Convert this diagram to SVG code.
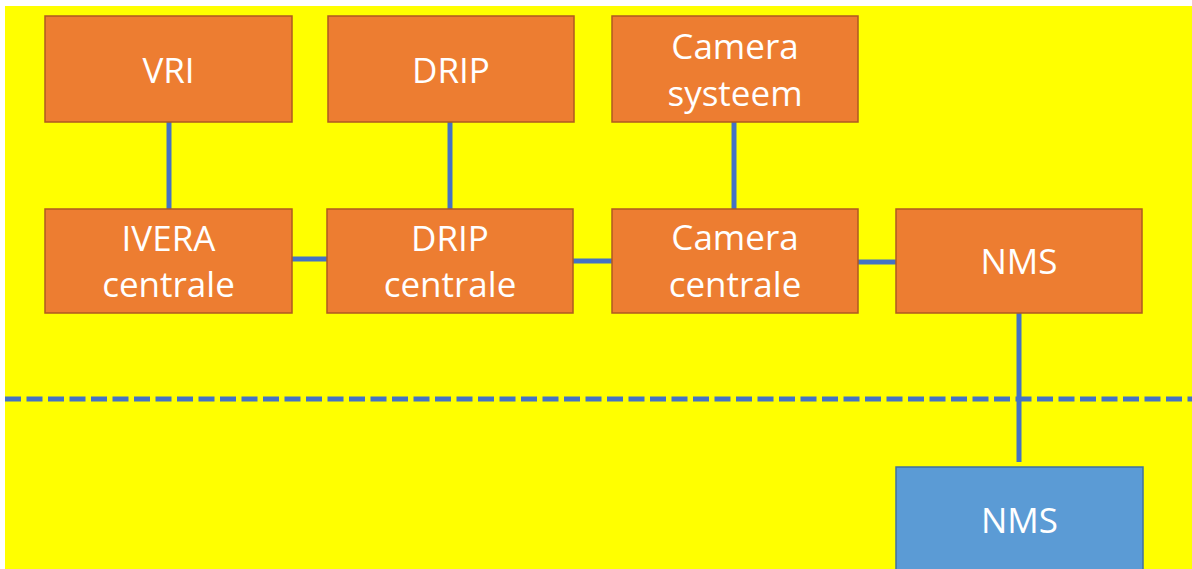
<svg xmlns="http://www.w3.org/2000/svg" width="1192" height="569" viewBox="0 0 1192 569">
<style>
.box{fill:#ED7D31;stroke:#AE5A21;stroke-width:1.5}
.bbox{fill:#5B9BD5;stroke:#41719C;stroke-width:1.5}
.t{font-family:"Open Sans","Liberation Sans",sans-serif;font-size:35px;fill:#FFFFFF;text-anchor:middle}
.c{stroke:#4472C4;stroke-width:5;fill:none}
</style>
<rect x="0" y="0" width="1192" height="569" fill="#FFFFFF"/>
<rect x="5" y="6" width="1187" height="563" fill="#FFFF00"/>
<g id="connectors">
<line class="c" x1="5" y1="399" x2="1192" y2="399" stroke-dasharray="16 5.5"/>
<line class="c" x1="169" y1="122" x2="169" y2="209"/>
<line class="c" x1="450" y1="122" x2="450" y2="209"/>
<line class="c" x1="734" y1="122" x2="734" y2="209"/>
<line class="c" x1="292" y1="259" x2="327" y2="259"/>
<line class="c" x1="573" y1="261" x2="612" y2="261"/>
<line class="c" x1="858" y1="262" x2="896" y2="262"/>
<line class="c" x1="1019" y1="313" x2="1019" y2="462"/>
</g>
<g id="vri">
<rect class="box" x="45" y="16" width="247" height="106"/>
<text class="t" x="168.5" y="83">VRI</text>
</g>
<g id="drip">
<rect class="box" x="328" y="16" width="246" height="106"/>
<text class="t" x="451" y="83">DRIP</text>
</g>
<g id="camera-systeem">
<rect class="box" x="612" y="16" width="246" height="106"/>
<text class="t" x="735" y="59">Camera</text>
<text class="t" x="735" y="106">systeem</text>
</g>
<g id="ivera-centrale">
<rect class="box" x="45" y="209" width="247" height="104"/>
<text class="t" x="168.5" y="251">IVERA</text>
<text class="t" x="168.5" y="297">centrale</text>
</g>
<g id="drip-centrale">
<rect class="box" x="327" y="209" width="246" height="104"/>
<text class="t" x="450" y="251">DRIP</text>
<text class="t" x="450" y="297">centrale</text>
</g>
<g id="camera-centrale">
<rect class="box" x="612" y="209" width="246" height="104"/>
<text class="t" x="735" y="250">Camera</text>
<text class="t" x="735" y="297">centrale</text>
</g>
<g id="nms-top">
<rect class="box" x="896" y="209" width="246" height="104"/>
<text class="t" x="1019" y="274">NMS</text>
</g>
<g id="nms-bottom">
<rect class="bbox" x="896" y="467" width="247" height="110"/>
<text class="t" x="1019.5" y="533">NMS</text>
</g>
</svg>
